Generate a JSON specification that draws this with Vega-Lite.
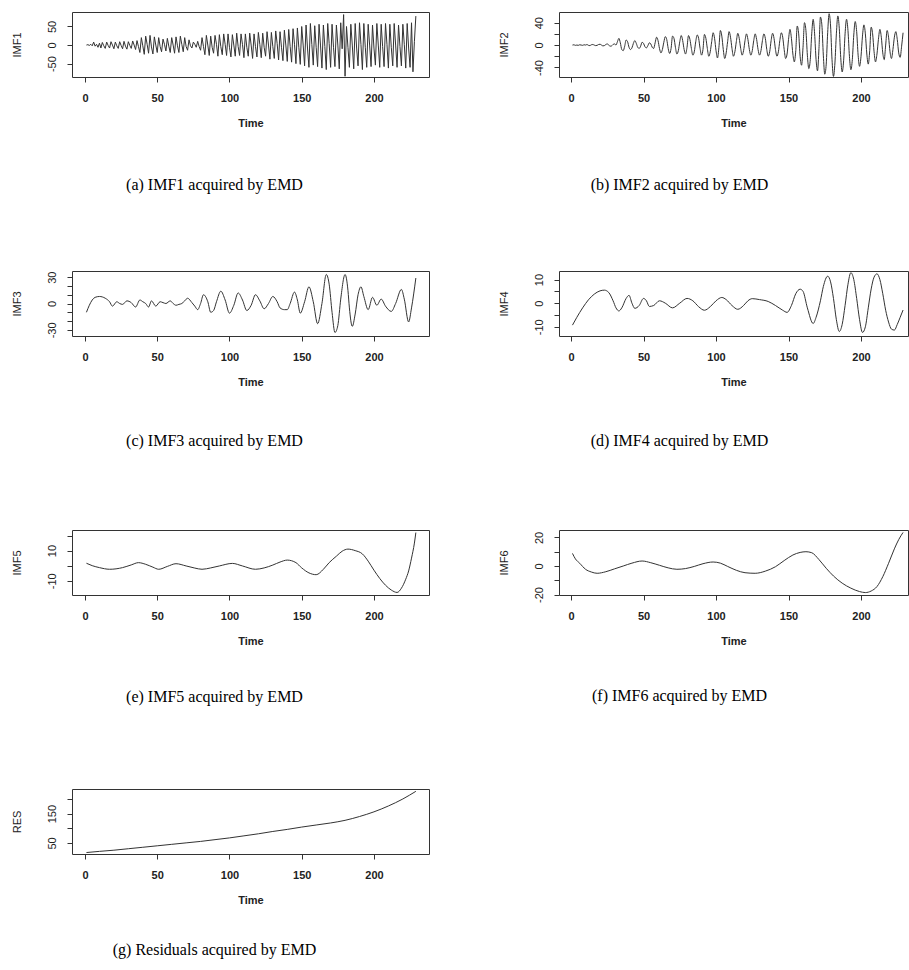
{
"$schema": "https://vega.github.io/schema/vega-lite/v6.json",
"background": "white",
"padding": {"left": 10, "top": 11, "right": 0, "bottom": 0},
"config": {
 "view": {"stroke": "#333", "strokeWidth": 1},
 "axis": {"grid": false, "domain": false, "tickColor": "#333", "tickSize": 5, "labelFont": "Liberation Sans", "labelFontSize": 11, "labelColor": "#222", "titleFont": "Liberation Sans", "titleFontSize": 11, "titleColor": "#222"},
 "axisX": {"labelFontWeight": "bold", "titleFontWeight": "bold", "labelPadding": 10, "titlePadding": 14},
 "axisY": {"labelAngle": -90, "labelAlign": "center", "labelBaseline": "bottom", "labelPadding": 10, "titlePadding": 24, "titleFontWeight": "normal"},
 "title": {"orient": "bottom", "anchor": "middle", "frame": "group", "font": "Liberation Serif", "fontSize": 16, "fontWeight": "normal", "color": "#000"},
 "line": {"color": "#333", "strokeWidth": 1, "clip": true}
},
"datasets": {
 "imf1": [
{"t":1,"v":0},{"t":2,"v":1},{"t":3,"v":-1},{"t":4,"v":2},{"t":5,"v":-2},{"t":6,"v":8},{"t":7,"v":-3},{"t":8,"v":2},{"t":9,"v":-6},{"t":10,"v":5},
{"t":11,"v":-8},{"t":12,"v":7},{"t":13,"v":-2},{"t":14,"v":-9},{"t":15,"v":8},{"t":16,"v":-1},{"t":17,"v":-8},{"t":18,"v":9},{"t":19,"v":0},{"t":20,"v":-10},
{"t":21,"v":8},{"t":22,"v":-2},{"t":23,"v":-9},{"t":24,"v":9},{"t":25,"v":-1},{"t":26,"v":-10},{"t":27,"v":10},{"t":28,"v":-3},{"t":29,"v":-11},{"t":30,"v":9},
{"t":31,"v":-1},{"t":32,"v":-9},{"t":33,"v":11},{"t":34,"v":0},{"t":35,"v":-12},{"t":36,"v":12},{"t":37,"v":-4},{"t":38,"v":-20},{"t":39,"v":20},{"t":40,"v":-2},
{"t":41,"v":-25},{"t":42,"v":24},{"t":43,"v":2},{"t":44,"v":-22},{"t":45,"v":26},{"t":46,"v":-5},{"t":47,"v":-24},{"t":48,"v":22},{"t":49,"v":0},{"t":50,"v":-20},
{"t":51,"v":20},{"t":52,"v":-4},{"t":53,"v":-18},{"t":54,"v":16},{"t":55,"v":2},{"t":56,"v":-16},{"t":57,"v":18},{"t":58,"v":-3},{"t":59,"v":-20},{"t":60,"v":20},
{"t":61,"v":0},{"t":62,"v":-22},{"t":63,"v":22},{"t":64,"v":-2},{"t":65,"v":-20},{"t":66,"v":24},{"t":67,"v":2},{"t":68,"v":-18},{"t":69,"v":20},{"t":70,"v":-4},
{"t":71,"v":-14},{"t":72,"v":14},{"t":73,"v":-2},{"t":74,"v":-8},{"t":75,"v":8},{"t":76,"v":2},{"t":77,"v":-6},{"t":78,"v":10},{"t":79,"v":-4},{"t":80,"v":-14},
{"t":81,"v":20},{"t":82,"v":-4},{"t":83,"v":-26},{"t":84,"v":26},{"t":85,"v":0},{"t":86,"v":-28},{"t":87,"v":24},{"t":88,"v":-6},{"t":89,"v":-22},{"t":90,"v":26},
{"t":91,"v":2},{"t":92,"v":-30},{"t":93,"v":28},{"t":94,"v":-4},{"t":95,"v":-26},{"t":96,"v":30},{"t":97,"v":2},{"t":98,"v":-28},{"t":99,"v":30},{"t":100,"v":-6},
{"t":101,"v":-32},{"t":102,"v":28},{"t":103,"v":0},{"t":104,"v":-30},{"t":105,"v":32},{"t":106,"v":-4},{"t":107,"v":-28},{"t":108,"v":30},{"t":109,"v":2},{"t":110,"v":-34},
{"t":111,"v":30},{"t":112,"v":-6},{"t":113,"v":-30},{"t":114,"v":32},{"t":115,"v":0},{"t":116,"v":-36},{"t":117,"v":30},{"t":118,"v":-4},{"t":119,"v":-32},{"t":120,"v":34},
{"t":121,"v":2},{"t":122,"v":-34},{"t":123,"v":32},{"t":124,"v":-6},{"t":125,"v":-30},{"t":126,"v":36},{"t":127,"v":0},{"t":128,"v":-38},{"t":129,"v":34},{"t":130,"v":-4},
{"t":131,"v":-36},{"t":132,"v":38},{"t":133,"v":4},{"t":134,"v":-40},{"t":135,"v":36},{"t":136,"v":-6},{"t":137,"v":-42},{"t":138,"v":40},{"t":139,"v":0},{"t":140,"v":-44},
{"t":141,"v":42},{"t":142,"v":-4},{"t":143,"v":-46},{"t":144,"v":44},{"t":145,"v":2},{"t":146,"v":-50},{"t":147,"v":46},{"t":148,"v":-6},{"t":149,"v":-52},{"t":150,"v":50},
{"t":151,"v":0},{"t":152,"v":-56},{"t":153,"v":54},{"t":154,"v":-8},{"t":155,"v":-60},{"t":156,"v":58},{"t":157,"v":2},{"t":158,"v":-54},{"t":159,"v":52},{"t":160,"v":-6},
{"t":161,"v":-58},{"t":162,"v":56},{"t":163,"v":0},{"t":164,"v":-62},{"t":165,"v":54},{"t":166,"v":-4},{"t":167,"v":-66},{"t":168,"v":58},{"t":169,"v":4},{"t":170,"v":-60},
{"t":171,"v":56},{"t":172,"v":-6},{"t":173,"v":-58},{"t":174,"v":54},{"t":175,"v":0},{"t":176,"v":-64},{"t":177,"v":60},{"t":178,"v":-10},{"t":179,"v":82},{"t":180,"v":-84},
{"t":181,"v":50},{"t":182,"v":-6},{"t":183,"v":-60},{"t":184,"v":56},{"t":185,"v":0},{"t":186,"v":-64},{"t":187,"v":58},{"t":188,"v":-8},{"t":189,"v":-56},{"t":190,"v":60},
{"t":191,"v":2},{"t":192,"v":-66},{"t":193,"v":58},{"t":194,"v":-6},{"t":195,"v":-60},{"t":196,"v":56},{"t":197,"v":0},{"t":198,"v":-58},{"t":199,"v":54},{"t":200,"v":-8},
{"t":201,"v":-54},{"t":202,"v":58},{"t":203,"v":0},{"t":204,"v":-60},{"t":205,"v":56},{"t":206,"v":-4},{"t":207,"v":-58},{"t":208,"v":58},{"t":209,"v":2},{"t":210,"v":-62},
{"t":211,"v":56},{"t":212,"v":-6},{"t":213,"v":-56},{"t":214,"v":58},{"t":215,"v":0},{"t":216,"v":-60},{"t":217,"v":54},{"t":218,"v":-4},{"t":219,"v":-56},{"t":220,"v":56},
{"t":221,"v":2},{"t":222,"v":-62},{"t":223,"v":58},{"t":224,"v":-8},{"t":225,"v":-60},{"t":226,"v":60},{"t":227,"v":-72},{"t":228,"v":10},{"t":229,"v":78}
 ],
 "imf2": [
{"t":1,"v":0},{"t":2,"v":0.5},{"t":3,"v":-0.5},{"t":4,"v":0},{"t":5,"v":-0.5},{"t":6,"v":0.5},{"t":7,"v":0},{"t":8,"v":-0.5},{"t":9,"v":0.5},{"t":10,"v":0},
{"t":11,"v":1},{"t":12,"v":-0.5},{"t":13,"v":-1},{"t":14,"v":0.5},{"t":15,"v":1},{"t":16,"v":0},{"t":17,"v":-1},{"t":18,"v":-0.5},{"t":19,"v":1},{"t":20,"v":1.5},
{"t":21,"v":0},{"t":22,"v":-1.5},{"t":23,"v":-1},{"t":24,"v":1},{"t":25,"v":2},{"t":26,"v":0},{"t":27,"v":-2},{"t":28,"v":-1.5},{"t":29,"v":1},{"t":30,"v":2},
{"t":31,"v":0},{"t":32,"v":6},{"t":33,"v":12},{"t":34,"v":4},{"t":35,"v":-8},{"t":36,"v":-10},{"t":37,"v":-2},{"t":38,"v":9},{"t":39,"v":6},{"t":40,"v":-4},
{"t":41,"v":-8},{"t":42,"v":-5},{"t":43,"v":3},{"t":44,"v":8},{"t":45,"v":3},{"t":46,"v":-4},{"t":47,"v":-6},{"t":48,"v":-2},{"t":49,"v":5},{"t":50,"v":3},
{"t":51,"v":-3},{"t":52,"v":-5},{"t":53,"v":-1},{"t":54,"v":4},{"t":55,"v":2},{"t":56,"v":-4},{"t":57,"v":-6},{"t":58,"v":4},{"t":59,"v":14},{"t":60,"v":8},
{"t":61,"v":-6},{"t":62,"v":-14},{"t":63,"v":-8},{"t":64,"v":5},{"t":65,"v":15},{"t":66,"v":10},{"t":67,"v":-6},{"t":68,"v":-15},{"t":69,"v":-6},{"t":70,"v":16},
{"t":71,"v":12},{"t":72,"v":-4},{"t":73,"v":-16},{"t":74,"v":-10},{"t":75,"v":6},{"t":76,"v":17},{"t":77,"v":8},{"t":78,"v":-8},{"t":79,"v":-16},{"t":80,"v":-4},
{"t":81,"v":17},{"t":82,"v":10},{"t":83,"v":-6},{"t":84,"v":-18},{"t":85,"v":-12},{"t":86,"v":6},{"t":87,"v":18},{"t":88,"v":12},{"t":89,"v":-6},{"t":90,"v":-18},
{"t":91,"v":-8},{"t":92,"v":19},{"t":93,"v":12},{"t":94,"v":-6},{"t":95,"v":-20},{"t":96,"v":-12},{"t":97,"v":6},{"t":98,"v":22},{"t":99,"v":12},{"t":100,"v":-10},
{"t":101,"v":-23},{"t":102,"v":-4},{"t":103,"v":26},{"t":104,"v":16},{"t":105,"v":-8},{"t":106,"v":-24},{"t":107,"v":-14},{"t":108,"v":6},{"t":109,"v":24},{"t":110,"v":14},
{"t":111,"v":-6},{"t":112,"v":-20},{"t":113,"v":-12},{"t":114,"v":6},{"t":115,"v":21},{"t":116,"v":12},{"t":117,"v":-6},{"t":118,"v":-18},{"t":119,"v":-10},{"t":120,"v":8},
{"t":121,"v":20},{"t":122,"v":10},{"t":123,"v":-8},{"t":124,"v":-18},{"t":125,"v":-10},{"t":126,"v":8},{"t":127,"v":20},{"t":128,"v":10},{"t":129,"v":-8},{"t":130,"v":-18},
{"t":131,"v":-10},{"t":132,"v":8},{"t":133,"v":20},{"t":134,"v":12},{"t":135,"v":-8},{"t":136,"v":-20},{"t":137,"v":-12},{"t":138,"v":8},{"t":139,"v":21},{"t":140,"v":12},
{"t":141,"v":-8},{"t":142,"v":-20},{"t":143,"v":-12},{"t":144,"v":8},{"t":145,"v":22},{"t":146,"v":14},{"t":147,"v":-8},{"t":148,"v":-24},{"t":149,"v":-16},{"t":150,"v":10},
{"t":151,"v":28},{"t":152,"v":12},{"t":153,"v":-16},{"t":154,"v":-30},{"t":155,"v":-10},{"t":156,"v":34},{"t":157,"v":20},{"t":158,"v":-20},{"t":159,"v":-36},{"t":160,"v":-4},
{"t":161,"v":40},{"t":162,"v":26},{"t":163,"v":-18},{"t":164,"v":-42},{"t":165,"v":-26},{"t":166,"v":20},{"t":167,"v":46},{"t":168,"v":20},{"t":169,"v":-26},{"t":170,"v":-46},
{"t":171,"v":-6},{"t":172,"v":50},{"t":173,"v":36},{"t":174,"v":-18},{"t":175,"v":-52},{"t":176,"v":-34},{"t":177,"v":22},{"t":178,"v":56},{"t":179,"v":34},{"t":180,"v":-26},
{"t":181,"v":-56},{"t":182,"v":-32},{"t":183,"v":20},{"t":184,"v":52},{"t":185,"v":30},{"t":186,"v":-22},{"t":187,"v":-48},{"t":188,"v":-28},{"t":189,"v":20},{"t":190,"v":46},
{"t":191,"v":26},{"t":192,"v":-20},{"t":193,"v":-44},{"t":194,"v":-26},{"t":195,"v":18},{"t":196,"v":42},{"t":197,"v":24},{"t":198,"v":-18},{"t":199,"v":-38},{"t":200,"v":-20},
{"t":201,"v":16},{"t":202,"v":36},{"t":203,"v":20},{"t":204,"v":-16},{"t":205,"v":-34},{"t":206,"v":-10},{"t":207,"v":32},{"t":208,"v":20},{"t":209,"v":-12},{"t":210,"v":-30},
{"t":211,"v":-16},{"t":212,"v":10},{"t":213,"v":28},{"t":214,"v":14},{"t":215,"v":-14},{"t":216,"v":-26},{"t":217,"v":0},{"t":218,"v":26},{"t":219,"v":14},{"t":220,"v":-12},
{"t":221,"v":-24},{"t":222,"v":-8},{"t":223,"v":14},{"t":224,"v":24},{"t":225,"v":10},{"t":226,"v":-14},{"t":227,"v":-22},{"t":228,"v":-2},{"t":229,"v":22}
 ],
 "imf3": [
{"t":1,"v":-10},{"t":3,"v":-2},{"t":5,"v":4},{"t":7,"v":7},{"t":10,"v":8},{"t":14,"v":6},{"t":17,"v":2},{"t":19,"v":-3},{"t":22,"v":2},{"t":24,"v":0},
{"t":26,"v":-1},{"t":29,"v":3},{"t":32,"v":1},{"t":35,"v":-4},{"t":38,"v":4},{"t":40,"v":2},{"t":42,"v":0},{"t":44,"v":-4},{"t":46,"v":3},{"t":49,"v":-3},
{"t":52,"v":2},{"t":54,"v":1},{"t":56,"v":0},{"t":59,"v":3},{"t":61,"v":0},{"t":63,"v":-2},{"t":65,"v":-1},{"t":67,"v":0},{"t":69,"v":3},{"t":71,"v":6},
{"t":74,"v":1},{"t":76,"v":-3},{"t":78,"v":-7},{"t":80,"v":0},{"t":82,"v":10},{"t":85,"v":2},{"t":87,"v":-10},{"t":89,"v":-8},{"t":91,"v":2},{"t":94,"v":14},
{"t":97,"v":4},{"t":100,"v":-11},{"t":103,"v":-2},{"t":106,"v":12},{"t":109,"v":4},{"t":112,"v":-8},{"t":115,"v":-2},{"t":118,"v":10},{"t":121,"v":3},{"t":124,"v":-6},
{"t":127,"v":0},{"t":130,"v":8},{"t":133,"v":2},{"t":135,"v":-5},{"t":138,"v":-7},{"t":140,"v":-7},{"t":142,"v":0},{"t":145,"v":13},{"t":147,"v":4},{"t":149,"v":-11},
{"t":152,"v":2},{"t":155,"v":19},{"t":158,"v":2},{"t":161,"v":-23},{"t":164,"v":0},{"t":167,"v":33},{"t":169,"v":22},{"t":171,"v":-10},{"t":173,"v":-33},{"t":175,"v":-25},
{"t":177,"v":5},{"t":180,"v":33},{"t":182,"v":15},{"t":183,"v":-5},{"t":185,"v":-26},{"t":187,"v":-12},{"t":189,"v":10},{"t":191,"v":19},{"t":193,"v":8},{"t":196,"v":-7},
{"t":199,"v":7},{"t":202,"v":-2},{"t":205,"v":5},{"t":208,"v":-3},{"t":212,"v":-9},{"t":215,"v":0},{"t":219,"v":16},{"t":221,"v":5},{"t":224,"v":-21},{"t":226,"v":-5},{"t":229,"v":29}
 ],
 "imf4": [
{"t":1,"v":-9.3},{"t":4,"v":-6},{"t":8,"v":-2},{"t":12,"v":1.4},{"t":16,"v":3.8},{"t":20,"v":5.2},{"t":23,"v":5.5},{"t":26,"v":4.5},{"t":29,"v":1},{"t":31,"v":-2},
{"t":33,"v":-3.3},{"t":35,"v":-2},{"t":38,"v":2},{"t":40,"v":3.3},{"t":42,"v":0},{"t":44,"v":-2.2},{"t":47,"v":-1},{"t":50,"v":2},{"t":52,"v":1},{"t":54,"v":-1.4},
{"t":57,"v":-1},{"t":61,"v":1},{"t":65,"v":0},{"t":70,"v":-2},{"t":75,"v":0},{"t":80,"v":2},{"t":84,"v":1},{"t":88,"v":-1.5},{"t":92,"v":-3},{"t":96,"v":-1.5},
{"t":100,"v":1},{"t":104,"v":2.4},{"t":107,"v":1.5},{"t":111,"v":-1},{"t":115,"v":-2.6},{"t":119,"v":-1},{"t":122,"v":1},{"t":125,"v":1.9},{"t":130,"v":1.5},{"t":136,"v":0.7},
{"t":141,"v":-1},{"t":146,"v":-3},{"t":149,"v":-3.9},{"t":152,"v":-1},{"t":155,"v":4},{"t":158,"v":5.9},{"t":160,"v":5},{"t":163,"v":-2},{"t":167,"v":-8.6},{"t":169,"v":-6},
{"t":172,"v":1},{"t":174,"v":7},{"t":177,"v":11.4},{"t":179,"v":9},{"t":181,"v":2},{"t":183,"v":-7},{"t":185,"v":-12},{"t":187,"v":-9},{"t":189,"v":-1},{"t":191,"v":8},
{"t":193,"v":12.9},{"t":195,"v":10},{"t":197,"v":2},{"t":199,"v":-7},{"t":201,"v":-12.4},{"t":203,"v":-10},{"t":205,"v":-2},{"t":207,"v":6},{"t":209,"v":11},{"t":211,"v":12.4},
{"t":213,"v":10},{"t":215,"v":4},{"t":217,"v":-3},{"t":219,"v":-8},{"t":221,"v":-11},{"t":223,"v":-11.4},{"t":225,"v":-9},{"t":227,"v":-6},{"t":229,"v":-2.9}
 ],
 "imf5": [
{"t":1,"v":1.6},{"t":5,"v":0},{"t":10,"v":-1.3},{"t":17,"v":-2.4},{"t":26,"v":-1.3},{"t":32,"v":0.5},{"t":37,"v":2},{"t":42,"v":0.9},{"t":47,"v":-1},{"t":51,"v":-2.4},
{"t":57,"v":-0.5},{"t":63,"v":1.3},{"t":70,"v":-0.2},{"t":76,"v":-1.6},{"t":81,"v":-2.4},{"t":87,"v":-1.5},{"t":93,"v":-0.2},{"t":102,"v":1.5},{"t":109,"v":-0.2},{"t":118,"v":-2.4},
{"t":124,"v":-1.5},{"t":130,"v":0.4},{"t":135,"v":2.4},{"t":140,"v":3.7},{"t":146,"v":2},{"t":150,"v":-1.5},{"t":155,"v":-4.8},{"t":160,"v":-6},{"t":165,"v":-2.4},{"t":169,"v":2},
{"t":174,"v":6.3},{"t":178,"v":9.6},{"t":182,"v":11},{"t":187,"v":10},{"t":192,"v":7.8},{"t":196,"v":3},{"t":200,"v":-3},{"t":204,"v":-8.5},{"t":208,"v":-13},{"t":212,"v":-16.2},
{"t":216,"v":-17.8},{"t":219,"v":-15},{"t":222,"v":-9},{"t":224,"v":-3.5},{"t":226,"v":5},{"t":228,"v":15},{"t":229,"v":22}
 ],
 "imf6": [
{"t":1,"v":8.8},{"t":3,"v":5},{"t":6,"v":1.9},{"t":10,"v":-2.3},{"t":14,"v":-4.2},{"t":18,"v":-5.1},{"t":24,"v":-4},{"t":30,"v":-2},{"t":36,"v":0},{"t":42,"v":2},
{"t":49,"v":3.5},{"t":55,"v":2.3},{"t":61,"v":0.5},{"t":67,"v":-1.3},{"t":73,"v":-2.3},{"t":79,"v":-1.8},{"t":85,"v":-0.3},{"t":91,"v":1.6},{"t":98,"v":2.8},{"t":103,"v":2},
{"t":108,"v":-0.3},{"t":114,"v":-3},{"t":120,"v":-4.7},{"t":127,"v":-5.1},{"t":134,"v":-3.6},{"t":141,"v":-0.5},{"t":147,"v":3.8},{"t":153,"v":7.7},{"t":158,"v":9.5},{"t":162,"v":10},
{"t":166,"v":9.3},{"t":171,"v":4.5},{"t":176,"v":-1.6},{"t":181,"v":-7},{"t":187,"v":-12},{"t":193,"v":-15.5},{"t":199,"v":-17.9},{"t":203,"v":-18.6},{"t":207,"v":-17.5},{"t":211,"v":-14.4},
{"t":215,"v":-7.5},{"t":219,"v":1.9},{"t":223,"v":12},{"t":226,"v":18.5},{"t":229,"v":23.5}
 ],
 "res": [
{"t":1,"v":17},{"t":10,"v":21},{"t":20,"v":25},{"t":30,"v":30},{"t":40,"v":35},{"t":50,"v":40},{"t":60,"v":45},{"t":70,"v":50},{"t":80,"v":55},{"t":90,"v":61},
{"t":100,"v":67},{"t":110,"v":74},{"t":120,"v":81},{"t":130,"v":89},{"t":140,"v":96},{"t":150,"v":104},{"t":160,"v":111},{"t":170,"v":118},{"t":180,"v":127},{"t":190,"v":140},
{"t":200,"v":156},{"t":210,"v":176},{"t":220,"v":200},{"t":229,"v":226}
 ]
},
"columns": 2,
"spacing": {"row": 194, "column": 130},
"bounds": "flush",
"concat": [
 {
  "width": 357, "height": 65,
  "data": {"name": "imf1"},
  "title": {"text": "(a) IMF1 acquired by EMD", "dx": -36, "offset": 49},
  "mark": {"type": "line"},
  "encoding": {
   "x": {"field": "t", "type": "quantitative", "scale": {"domain": [-9, 238.1], "nice": false, "zero": false}, "axis": {"values": [0, 50, 100, 150, 200], "title": "Time"}},
   "y": {"field": "v", "type": "quantitative", "scale": {"domain": [-86, 89], "nice": false, "zero": false}, "axis": {"values": [-50, 0, 50], "title": "IMF1", "labelExpr": "'' + datum.value"}}
  }
 },
 {
  "width": 349, "height": 65,
  "data": {"name": "imf2"},
  "title": {"text": "(b) IMF2 acquired by EMD", "dx": -54, "offset": 49},
  "mark": {"type": "line", "interpolate": "monotone"},
  "encoding": {
   "x": {"field": "t", "type": "quantitative", "scale": {"domain": [-8.3, 232.4], "nice": false, "zero": false}, "axis": {"values": [0, 50, 100, 150, 200], "title": "Time"}},
   "y": {"field": "v", "type": "quantitative", "scale": {"domain": [-57, 59], "nice": false, "zero": false}, "axis": {"values": [-40, -20, 0, 20, 40], "title": "IMF2", "labelExpr": "datum.value % 40 == 0 ? '' + datum.value : ''"}}
  }
 },
 {
  "width": 357, "height": 65,
  "data": {"name": "imf3"},
  "title": {"text": "(c) IMF3 acquired by EMD", "dx": -36, "offset": 46},
  "mark": {"type": "line", "interpolate": "monotone"},
  "encoding": {
   "x": {"field": "t", "type": "quantitative", "scale": {"domain": [-9, 238.1], "nice": false, "zero": false}, "axis": {"values": [0, 50, 100, 150, 200], "title": "Time"}},
   "y": {"field": "v", "type": "quantitative", "scale": {"domain": [-37, 37], "nice": false, "zero": false}, "axis": {"values": [-30, -20, -10, 0, 10, 20, 30], "title": "IMF3", "labelExpr": "datum.value % 30 == 0 ? '' + datum.value : ''"}}
  }
 },
 {
  "width": 349, "height": 65,
  "data": {"name": "imf4"},
  "title": {"text": "(d) IMF4 acquired by EMD", "dx": -54, "offset": 46},
  "mark": {"type": "line", "interpolate": "monotone"},
  "encoding": {
   "x": {"field": "t", "type": "quantitative", "scale": {"domain": [-8.3, 232.4], "nice": false, "zero": false}, "axis": {"values": [0, 50, 100, 150, 200], "title": "Time"}},
   "y": {"field": "v", "type": "quantitative", "scale": {"domain": [-13.9, 13.6], "nice": false, "zero": false}, "axis": {"values": [-10, -5, 0, 5, 10], "title": "IMF4", "labelExpr": "datum.value % 10 == 0 ? '' + datum.value : ''"}}
  }
 },
 {
  "width": 357, "height": 65,
  "data": {"name": "imf5"},
  "title": {"text": "(e) IMF5 acquired by EMD", "dx": -36, "offset": 43},
  "mark": {"type": "line", "interpolate": "monotone"},
  "encoding": {
   "x": {"field": "t", "type": "quantitative", "scale": {"domain": [-9, 238.1], "nice": false, "zero": false}, "axis": {"values": [0, 50, 100, 150, 200], "title": "Time"}},
   "y": {"field": "v", "type": "quantitative", "scale": {"domain": [-19.5, 23.7], "nice": false, "zero": false}, "axis": {"values": [-10, 0, 10, 20], "title": "IMF5", "labelExpr": "abs(datum.value) == 10 ? '' + datum.value : ''"}}
  }
 },
 {
  "width": 349, "height": 65,
  "data": {"name": "imf6"},
  "title": {"text": "(f) IMF6 acquired by EMD", "dx": -54, "offset": 42},
  "mark": {"type": "line", "interpolate": "monotone"},
  "encoding": {
   "x": {"field": "t", "type": "quantitative", "scale": {"domain": [-8.3, 232.4], "nice": false, "zero": false}, "axis": {"values": [0, 50, 100, 150, 200], "title": "Time"}},
   "y": {"field": "v", "type": "quantitative", "scale": {"domain": [-20.3, 25.2], "nice": false, "zero": false}, "axis": {"values": [-20, -10, 0, 10, 20], "title": "IMF6", "labelExpr": "datum.value % 20 == 0 ? '' + datum.value : ''"}}
  }
 },
 {
  "width": 357, "height": 65,
  "data": {"name": "res"},
  "title": {"text": "(g) Residuals acquired by EMD", "dx": -36, "offset": 37},
  "mark": {"type": "line", "interpolate": "monotone"},
  "encoding": {
   "x": {"field": "t", "type": "quantitative", "scale": {"domain": [-9, 238.1], "nice": false, "zero": false}, "axis": {"values": [0, 50, 100, 150, 200], "title": "Time"}},
   "y": {"field": "v", "type": "quantitative", "scale": {"domain": [12, 234], "nice": false, "zero": false}, "axis": {"values": [50, 100, 150, 200], "title": "RES", "labelExpr": "datum.value == 50 || datum.value == 150 ? '' + datum.value : ''"}}
  }
 }
]
}
